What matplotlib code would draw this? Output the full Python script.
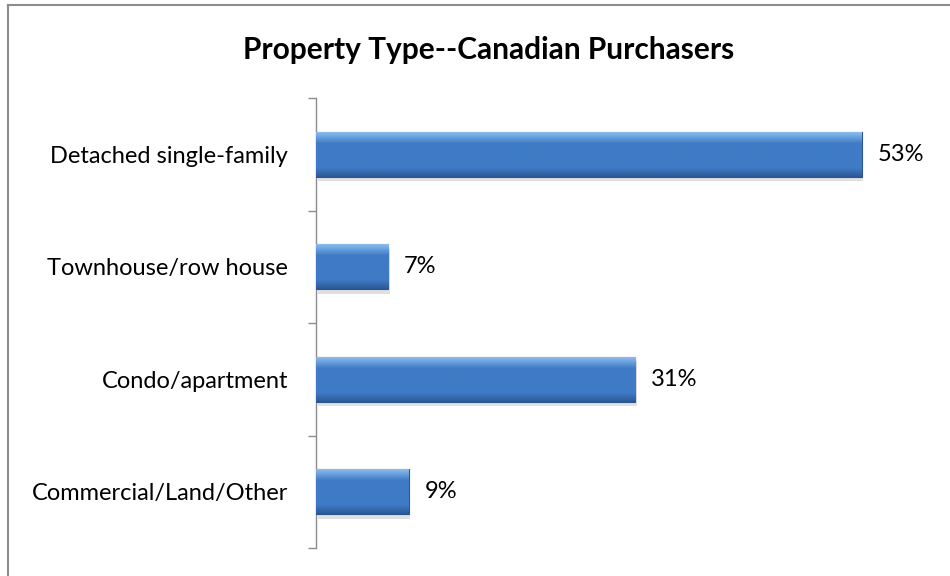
import matplotlib
matplotlib.use("Agg")
import matplotlib.pyplot as plt
import numpy as np
from matplotlib.patches import Rectangle

categories = ["Detached single-family", "Townhouse/row house", "Condo/apartment", "Commercial/Land/Other"]
values = [53, 7, 31, 9]
value_labels = ["53%", "7%", "31%", "9%"]
title = "Property Type--Canadian Purchasers"

plt.rcParams['font.family'] = ['Lato', 'DejaVu Sans']

W, H = 950, 576
fig = plt.figure(figsize=(W / 100, H / 100), dpi=100)

# chart border (top and left visible)
fig.add_artist(plt.Line2D([8 / W, 8 / W], [0, 1 - 5 / H], transform=fig.transFigure, color="#8c8c8c", lw=1.5))
fig.add_artist(plt.Line2D([8 / W, 1], [1 - 5 / H, 1 - 5 / H], transform=fig.transFigure, color="#8c8c8c", lw=1.5))

ax_left, ax_right = 316 / W, 934 / W
ax_bottom, ax_top = (H - 548) / H, (H - 98) / H
ax = fig.add_axes([ax_left, ax_bottom, ax_right - ax_left, ax_top - ax_bottom])

n = len(categories)
ypos = np.arange(n)[::-1]
bar_h = 0.4

# gradient image (vertical bevel)
grad = np.linspace(0, 1, 256)
top_c = np.array([0x8c, 0xbd, 0xef]) / 255
mid_c = np.array([0x3f, 0x7b, 0xc6]) / 255
bot_c = np.array([0x2c, 0x58, 0x93]) / 255
cols = []
for g in grad:
    if g < 0.25:
        t = g / 0.25
        c = top_c * (1 - t) + mid_c * t
    elif g < 0.8:
        c = mid_c
    else:
        t = (g - 0.8) / 0.2
        c = mid_c * (1 - t) + bot_c * t
    cols.append(c)
img = np.array(cols).reshape(256, 1, 3)

bars = ax.barh(ypos, values, height=bar_h, color="#3f7bc6", edgecolor="#2a5590", linewidth=0.8, zorder=3)
for b in bars:
    x0, y0, w, h = b.get_x(), b.get_y(), b.get_width(), b.get_height()
    # shadow
    ax.add_patch(Rectangle((x0 + 0.15, y0 - 0.04), w, h, facecolor="#000000", alpha=0.12, lw=0, zorder=2))
    im = ax.imshow(img, extent=(x0, x0 + w, y0, y0 + h), aspect="auto", origin="upper", zorder=3.5)
    im.set_clip_path(b)

for yv, v, lab in zip(ypos, values, value_labels):
    ax.annotate(lab, (v, yv), xytext=(11.5, 0), textcoords="offset points",
                va="center", ha="left", fontsize=17, color="#000000")

ax.set_xlim(0, 60)
ax.set_ylim(-0.5, n - 0.5)
ax.set_yticks(ypos)
ax.set_yticklabels(categories, fontsize=17)
ax.tick_params(axis="y", length=0, pad=20)
ax.set_yticks(np.arange(-0.5, n, 1.0), minor=True)
ax.tick_params(axis="y", which="minor", length=6, color="#8c8c8c", width=1)
ax.set_xticks([])
for s in ["top", "right", "bottom"]:
    ax.spines[s].set_visible(False)
ax.spines["left"].set_color("#8c8c8c")
ax.spines["left"].set_linewidth(1)

fig.text(489 / W, 1 - 50 / H, title, ha="center", va="center", fontsize=21.5, fontweight="bold")

fig.savefig("out.png", dpi=100)
